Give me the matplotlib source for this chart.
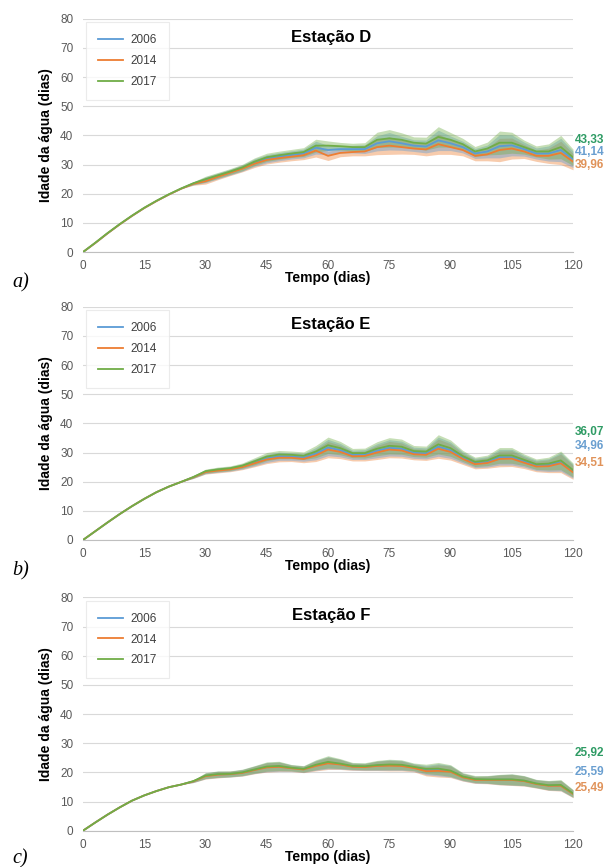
import matplotlib
matplotlib.use('Agg')
import matplotlib.pyplot as plt

plt.rcParams['font.family'] = ['Liberation Sans', 'DejaVu Sans']

# tempo (dias), um ponto a cada 3 dias
dias = list(range(0, 121, 3))

anos = ['2006', '2014', '2017']
cores = {'2006': '#5b9bd5', '2014': '#ed7d31', '2017': '#70ad47'}
cores_texto = {'2006': '#6a9fd0', '2014': '#e0935a', '2017': '#2e9b64'}

# Estação D - linha central de cada ano (dias)
d_2006 = [0, 3.1, 6.4, 9.5, 12.4, 15.1, 17.5, 19.7, 21.7, 23.5, 24.8, 26.1, 27.4, 28.8, 30.7, 32.0, 32.7,
          33.3, 33.8, 35.8, 35.0, 35.3, 35.3, 35.3, 37.3, 38.0, 37.3, 36.5, 36.2, 38.3, 37.3, 36.0, 33.8,
          34.5, 36.3, 36.6, 35.3, 33.8, 33.8, 35.0, 31.8]
d_2014 = [0, 3.1, 6.4, 9.5, 12.4, 15.1, 17.5, 19.7, 21.7, 23.4, 24.3, 25.8, 27.2, 28.6, 30.3, 31.6, 32.2,
          32.7, 33.2, 34.8, 33.0, 34.0, 34.3, 34.5, 36.0, 36.5, 36.0, 35.5, 35.2, 37.0, 36.0, 35.0, 33.0,
          33.5, 35.0, 35.5, 34.5, 33.0, 33.0, 34.0, 31.0]
d_2017 = [0, 3.2, 6.5, 9.6, 12.5, 15.2, 17.6, 19.8, 21.8, 23.6, 25.0, 26.3, 27.6, 29.0, 31.0, 32.5, 33.2,
          33.8, 34.3, 36.5, 36.5, 36.3, 36.0, 36.0, 38.5, 39.0, 38.5, 37.5, 37.2, 39.5, 38.5, 37.0, 34.5,
          35.5, 37.5, 37.5, 36.0, 34.5, 34.5, 36.0, 32.5]
# amplitude da oscilação de maré (meia largura da faixa)
d_faixa = [0, 0, 0, 0, 0, 0, 0, 0, 0, 0.5, 1.0, 1.0, 1.0, 1.1, 1.3, 1.4, 1.4, 1.4, 1.5, 2.2, 1.6, 1.3, 1.3,
           1.5, 2.6, 3.0, 2.4, 2.0, 2.2, 3.5, 2.5, 2.0, 1.7, 2.2, 4.0, 3.6, 2.4, 1.9, 2.6, 4.0, 2.8]

# Estação E
e_2006 = [0, 3.0, 6.0, 8.9, 11.6, 14.1, 16.4, 18.3, 19.9, 21.5, 23.4, 24.0, 24.4, 25.2, 26.6, 28.0, 28.7,
          28.6, 28.3, 29.6, 31.7, 30.8, 29.2, 29.3, 30.6, 31.6, 31.3, 29.9, 29.7, 32.0, 30.8, 28.3, 26.4,
          26.8, 28.4, 28.4, 27.0, 25.6, 25.7, 26.8, 23.6]
e_2014 = [0, 3.0, 6.0, 8.9, 11.6, 14.1, 16.4, 18.3, 19.9, 21.5, 23.3, 23.8, 24.2, 25.0, 26.3, 27.6, 28.2,
          28.2, 27.8, 29.0, 31.0, 30.2, 28.7, 28.8, 30.0, 31.0, 30.7, 29.4, 29.2, 31.3, 30.2, 27.8, 26.0,
          26.4, 27.8, 27.9, 26.5, 25.2, 25.3, 26.3, 23.2]
e_2017 = [0, 3.0, 6.0, 8.9, 11.6, 14.1, 16.4, 18.3, 19.9, 21.6, 23.6, 24.2, 24.6, 25.5, 27.0, 28.6, 29.3,
          29.2, 28.9, 30.3, 32.5, 31.5, 29.8, 29.8, 31.3, 32.3, 32.0, 30.5, 30.3, 32.8, 31.5, 28.8, 26.8,
          27.3, 29.0, 29.0, 27.5, 26.0, 26.2, 27.3, 24.0]
e_faixa = [0, 0, 0, 0, 0, 0, 0, 0, 0, 0.4, 0.7, 0.8, 0.8, 0.9, 1.2, 1.4, 1.4, 1.3, 1.3, 2.1, 2.8, 2.3, 1.6,
           1.7, 2.4, 2.8, 2.6, 1.9, 1.9, 3.3, 2.8, 1.9, 1.6, 1.8, 2.7, 2.7, 2.0, 1.8, 2.2, 3.2, 2.4]

# Estação F
f_2006 = [0, 2.8, 5.5, 8.0, 10.3, 12.1, 13.6, 14.9, 15.8, 16.9, 18.8, 19.3, 19.4, 19.9, 20.9, 21.8, 22.0,
          21.5, 21.1, 22.4, 23.3, 22.8, 22.0, 21.9, 22.3, 22.5, 22.4, 21.7, 20.8, 20.9, 20.4, 18.4, 17.5,
          17.5, 17.5, 17.5, 17.1, 16.1, 15.5, 15.5, 12.7]
f_2014 = [0, 2.8, 5.5, 8.0, 10.3, 12.1, 13.6, 14.9, 15.8, 16.9, 18.7, 19.2, 19.4, 19.8, 20.8, 21.7, 21.9,
          21.4, 21.0, 22.2, 23.1, 22.7, 21.9, 21.8, 22.2, 22.3, 22.2, 21.5, 20.4, 20.5, 20.2, 18.3, 17.4,
          17.4, 17.4, 17.4, 17.0, 16.0, 15.4, 15.4, 12.6]
f_2017 = [0, 2.8, 5.5, 8.0, 10.3, 12.1, 13.6, 14.9, 15.8, 17.0, 18.9, 19.4, 19.5, 20.0, 21.0, 22.0, 22.2,
          21.6, 21.2, 22.6, 23.6, 23.0, 22.2, 22.1, 22.5, 22.7, 22.6, 21.9, 21.2, 21.3, 20.6, 18.6, 17.7,
          17.6, 17.6, 17.6, 17.2, 16.2, 15.6, 15.7, 12.8]
f_faixa = [0, 0, 0, 0, 0, 0, 0, 0, 0, 0.4, 1.0, 1.1, 1.0, 1.1, 1.3, 1.6, 1.6, 1.1, 1.1, 1.7, 2.1, 1.7, 1.2,
           1.2, 1.6, 1.8, 1.7, 1.3, 1.6, 2.1, 2.0, 1.3, 1.2, 1.3, 1.7, 1.9, 1.7, 1.4, 1.6, 1.8, 1.3]

# valores indicados à direita de cada gráfico
rotulos_D = {'2017': '43,33', '2006': '41,14', '2014': '39,96'}
rotulos_E = {'2017': '36,07', '2006': '34,96', '2014': '34,51'}
rotulos_F = {'2017': '25,92', '2006': '25,59', '2014': '25,49'}

paineis = [
    ('Estação D', 'a)', {'2006': d_2006, '2014': d_2014, '2017': d_2017}, d_faixa, rotulos_D, [38.4, 34.3, 29.8]),
    ('Estação E', 'b)', {'2006': e_2006, '2014': e_2014, '2017': e_2017}, e_faixa, rotulos_E, [36.9, 32.1, 26.4]),
    ('Estação F', 'c)', {'2006': f_2006, '2014': f_2014, '2017': f_2017}, f_faixa, rotulos_F, [26.8, 20.2, 14.5]),
]

fig = plt.figure(figsize=(6.06, 8.67), dpi=100)
bottoms = [0.7093, 0.3772, 0.0419]
letra_y = [1 - 283 / 867, 1 - 571 / 867, 1 - 859 / 867]

for (titulo, letra, series, faixa, rotulos, y_rot), b, ly in zip(paineis, bottoms, letra_y):
    ax = fig.add_axes([0.137, b, 0.8086, 0.269])
    for ano in ['2014', '2006', '2017']:
        v = series[ano]
        lo = [c - f for c, f in zip(v, faixa)]
        hi = [c + f for c, f in zip(v, faixa)]
        ax.fill_between(dias, lo, hi, color=cores[ano], alpha=0.4, lw=0)
    handles = []
    for ano in ['2006', '2014', '2017']:
        h, = ax.plot(dias, series[ano], color=cores[ano], lw=1.3, label=ano)
        handles.append(h)
    handles[2].set_zorder(4)

    ax.set_xlim(0, 120)
    ax.set_ylim(0, 80)
    ax.set_xticks(range(0, 121, 15))
    ax.set_yticks(range(0, 81, 10))
    ax.tick_params(length=0, labelsize=8.5, labelcolor='#595959')
    ax.tick_params(axis='y', pad=7)
    ax.tick_params(axis='x', pad=6)
    ax.grid(axis='y', color='#d9d9d9', lw=0.8)
    ax.set_axisbelow(True)
    for s in ['top', 'right', 'left']:
        ax.spines[s].set_visible(False)
    ax.spines['bottom'].set_color('#bfbfbf')

    ax.set_xlabel('Tempo (dias)', fontsize=10, fontweight='bold', labelpad=-1)
    ax.set_ylabel('Idade da água (dias)', fontsize=10, fontweight='bold', labelpad=5)
    ax.text(0.506, 0.922, titulo, transform=ax.transAxes, ha='center', va='center',
            fontsize=12, fontweight='bold')

    leg = ax.legend(handles=handles, loc='upper left', bbox_to_anchor=(0.006, 0.985), borderaxespad=0,
                    fontsize=8.5, frameon=True, fancybox=False, handlelength=2.1, handletextpad=0.7,
                    labelspacing=0.75, borderpad=1.0)
    leg.get_frame().set_edgecolor('#e6e6e6')
    leg.get_frame().set_linewidth(0.8)
    for t in leg.get_texts():
        t.set_color('#404040')

    for ano, y in zip(['2017', '2006', '2014'], y_rot):
        ax.text(120.4, y, rotulos[ano], color=cores_texto[ano], fontsize=8.5, fontweight='bold',
                ha='left', va='center', clip_on=False)

    fig.text(0.02, ly, letra, fontsize=14.5, style='italic',
             family=['Liberation Serif', 'DejaVu Serif'], ha='left', va='center')

fig.savefig('out.png', dpi=100)
